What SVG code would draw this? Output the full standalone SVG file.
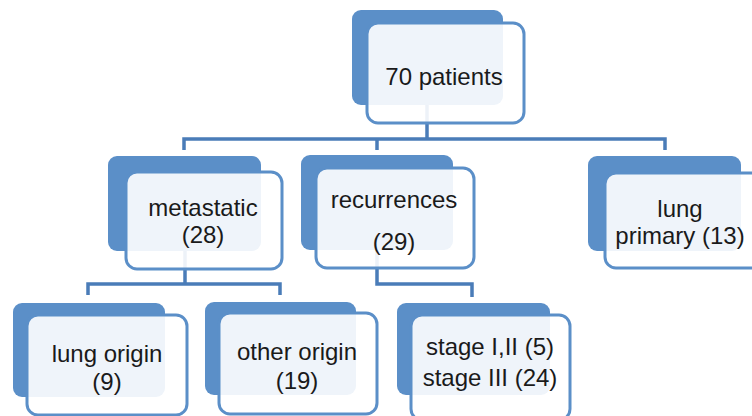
<svg xmlns="http://www.w3.org/2000/svg" width="752" height="416" viewBox="0 0 752 416">
<style>
.back{fill:#5b8fc8;}
.front{fill:#ffffff;fill-opacity:0.9;stroke:#5b8fc8;stroke-width:3;}
.conn{fill:none;stroke:#4a7cb8;stroke-width:3.5;stroke-linejoin:miter;}
text{font-family:"Liberation Sans",Arial,sans-serif;font-size:24px;fill:#1a1a1a;text-anchor:middle;}
</style>
<rect width="752" height="416" fill="#ffffff"/>
<g id="connectors">
<path class="conn" d="M427,105 V139"/>
<path class="conn" d="M184,150 V139 H665 V150"/>
<path class="conn" d="M377,139 V150"/>
<path class="conn" d="M185,251 V284"/>
<path class="conn" d="M88,295 V284 H280 V295"/>
<path class="conn" d="M377,250 V284 H472 V297"/>
</g>
<g id="n70">
<rect class="back" x="352" y="10" width="151" height="95" rx="9"/>
<rect class="front" x="367" y="23" width="157" height="100" rx="11"/>
<text x="444" y="85">70 patients</text>
</g>
<g id="metastatic">
<rect class="back" x="108" y="156" width="153" height="95" rx="9"/>
<rect class="front" x="126" y="172" width="156" height="97" rx="11"/>
<text x="203" y="216">metastatic</text>
<text x="203" y="243">(28)</text>
</g>
<g id="recurrences">
<rect class="back" x="301" y="155" width="152" height="95" rx="9"/>
<rect class="front" x="316" y="168" width="158" height="100" rx="11"/>
<text x="394" y="208">recurrences</text>
<text x="394" y="250">(29)</text>
</g>
<g id="lungprimary">
<rect class="back" x="588" y="156" width="153" height="95" rx="9"/>
<rect class="front" x="605" y="173" width="158" height="95" rx="11"/>
<text x="680" y="217">lung</text>
<text x="680" y="244">primary (13)</text>
</g>
<g id="lungorigin">
<rect class="back" x="13" y="303" width="152" height="94" rx="9"/>
<rect class="front" x="27" y="315" width="160" height="100" rx="11"/>
<text x="107" y="362">lung origin</text>
<text x="107" y="390">(9)</text>
</g>
<g id="otherorigin">
<rect class="back" x="205" y="302" width="151" height="93" rx="9"/>
<rect class="front" x="219" y="313" width="158" height="101" rx="11"/>
<text x="297" y="360">other origin</text>
<text x="297" y="389">(19)</text>
</g>
<g id="stage">
<rect class="back" x="397" y="303" width="153" height="92" rx="9"/>
<rect class="front" x="411" y="315" width="159" height="105" rx="11"/>
<text x="490" y="355">stage I,II (5)</text>
<text x="490" y="386">stage III (24)</text>
</g>
</svg>
